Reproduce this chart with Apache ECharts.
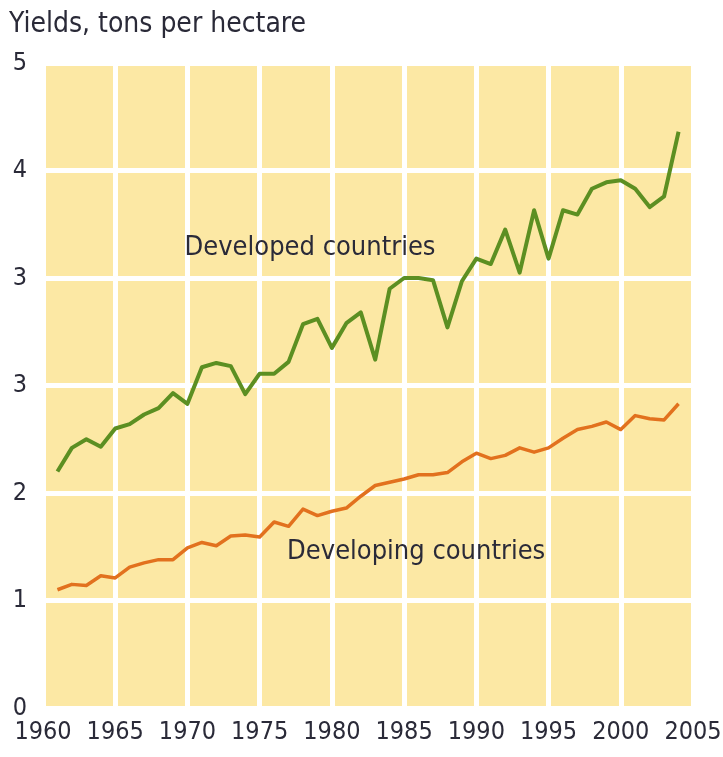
<!DOCTYPE html>
<html>
<head>
<meta charset="utf-8">
<script src="https://cdn.jsdelivr.net/npm/echarts@6/dist/echarts.min.js"></script>
<style>
html,body{margin:0;padding:0;background:#fff;}
#chart{width:723px;height:757px;}
</style>
</head>
<body>
<div id="chart"></div>
<script>
var years = [1961,1962,1963,1964,1965,1966,1967,1968,1969,1970,1971,1972,1973,1974,1975,1976,1977,1978,1979,1980,1981,1982,1983,1984,1985,1986,1987,1988,1989,1990,1991,1992,1993,1994,1995,1996,1997,1998,1999,2000,2001,2002,2003,2004];
var developed = [2.20,2.42,2.50,2.43,2.60,2.64,2.73,2.79,2.93,2.83,3.17,3.21,3.18,2.92,3.11,3.11,3.22,3.57,3.62,3.35,3.58,3.68,3.24,3.90,4.00,4.00,3.98,3.54,3.97,4.18,4.13,4.45,4.05,4.63,4.18,4.63,4.59,4.83,4.89,4.91,4.83,4.66,4.76,5.36];
var developing = [1.10,1.15,1.14,1.23,1.21,1.31,1.35,1.38,1.38,1.49,1.54,1.51,1.60,1.61,1.59,1.73,1.69,1.85,1.79,1.83,1.86,1.97,2.07,2.10,2.13,2.17,2.17,2.19,2.29,2.37,2.32,2.35,2.42,2.38,2.42,2.51,2.59,2.62,2.66,2.59,2.72,2.69,2.68,2.83];
var yTickLabels = ["0","1","2","3","3","4","5"];
var xTicks = [1960,1965,1970,1975,1980,1985,1990,1995,2000,2005];
var titleText = "Yields, tons per hectare";
var developedLabel = "Developed countries";
var developingLabel = "Developing countries";

var FONT = '"Liberation Sans Narrow", "DejaVu Sans Condensed", sans-serif';
var TXT = '#2a2a38';

function pairs(xs, ys){ return xs.map(function(x,i){ return [x, ys[i]]; }); }

var chart = echarts.init(document.getElementById('chart'), null, {renderer:'canvas'});
var option = {
  backgroundColor: '#ffffff',
  animation: false,
  title: {
    text: titleText, left: 4, top: 6,
    textStyle: {fontFamily: FONT, fontSize: 28, fontWeight: 'normal', color: TXT}
  },
  grid: {
    left: 43, right: 30, top: 63, bottom: 49,
    outerBoundsMode: 'none', containLabel: false,
    show: true, backgroundColor: '#FCE8A4', borderWidth: 0
  },
  xAxis: {
    type: 'value', min: xTicks[0], max: xTicks[xTicks.length-1], interval: 5,
    axisLine: {show: false}, axisTick: {show: false},
    splitLine: {show: true, lineStyle: {color: '#ffffff', width: 5}},
    axisLabel: {margin: 12, fontFamily: FONT, fontSize: 25, color: TXT,
      formatter: function(v){ return String(v); }}
  },
  yAxis: {
    type: 'value', min: 0, max: 6, interval: 1,
    axisLine: {show: false}, axisTick: {show: false},
    splitLine: {show: true, lineStyle: {color: '#ffffff', width: 5}},
    axisLabel: {margin: 16, fontFamily: FONT, fontSize: 25, color: TXT,
      formatter: function(v){ return yTickLabels[Math.round(v)]; }}
  },
  series: [
    {type: 'line', name: developedLabel, data: pairs(years, developed), showSymbol: false,
     lineStyle: {color: '#5C8F22', width: 4, join: 'round'}, z: 3},
    {type: 'line', name: developingLabel, data: pairs(years, developing), showSymbol: false,
     lineStyle: {color: '#E2711E', width: 3.5, join: 'round'}, z: 3}
  ]
};
chart.setOption(option);
var p1 = chart.convertToPixel({gridIndex: 0}, [1969.8, 4.28]);
var p2 = chart.convertToPixel({gridIndex: 0}, [1976.9, 1.45]);
chart.setOption({
  graphic: [
    {type: 'text', x: p1[0], y: p1[1], z: 10,
     style: {text: developedLabel, font: '27px ' + FONT, fill: TXT, textVerticalAlign: 'middle', verticalAlign: 'middle'}},
    {type: 'text', x: p2[0], y: p2[1], z: 10,
     style: {text: developingLabel, font: '27px ' + FONT, fill: TXT, textVerticalAlign: 'middle', verticalAlign: 'middle'}}
  ]
});
</script>
</body>
</html>
